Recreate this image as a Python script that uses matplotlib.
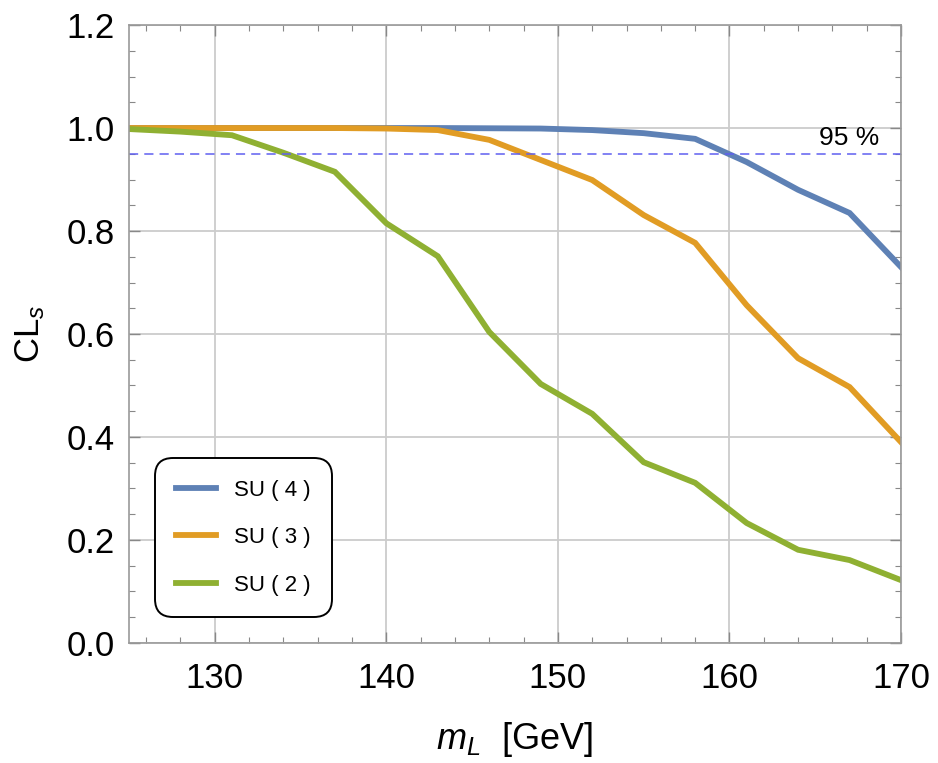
import numpy as np
import matplotlib.pyplot as plt
from matplotlib.ticker import MultipleLocator

plt.rcParams['font.family'] = ['Liberation Sans', 'DejaVu Sans']
plt.rcParams['mathtext.fontset'] = 'custom'
plt.rcParams['mathtext.rm'] = 'Liberation Sans'
plt.rcParams['mathtext.it'] = 'Liberation Sans:italic'

mass = [125, 128, 131, 134, 137, 140, 143, 146, 149, 152, 155, 158, 161, 164, 167, 170]
cls_su4 = [1.0, 1.0, 1.0, 1.0, 1.0, 1.0, 1.0, 0.9995, 0.999, 0.996, 0.99, 0.979, 0.934, 0.88, 0.835, 0.730]
cls_su3 = [1.0, 1.0, 1.0, 1.0, 1.0, 0.999, 0.996, 0.977, 0.938, 0.899, 0.831, 0.777, 0.656, 0.553, 0.497, 0.390]
cls_su2 = [0.998, 0.993, 0.986, 0.952, 0.915, 0.815, 0.751, 0.604, 0.503, 0.445, 0.351, 0.311, 0.233, 0.181, 0.161, 0.122]
labels = ['SU ( 4 )', 'SU ( 3 )', 'SU ( 2 )']
colors = ['#5E81B5', '#E19C24', '#8FB032']
cl_level = 0.95

fig = plt.figure(figsize=(9.38, 7.63), dpi=100)
ax = fig.add_axes([0.1375, 0.1573, 0.8231, 0.8099])

for y, lab, c in zip([cls_su4, cls_su3, cls_su2], labels, colors):
    ax.plot(mass, y, color=c, lw=4.2, label=lab, solid_joinstyle='miter')

ax.axhline(cl_level, color='#5f5ff0', lw=1.1, dashes=(6, 4))
ax.text(165.2, 0.957, '95 %', fontsize=19, ha='left', va='bottom')

ax.set_xlim(125, 170)
ax.set_ylim(0, 1.2)
ax.xaxis.set_major_locator(MultipleLocator(10))
ax.xaxis.set_minor_locator(MultipleLocator(2))
ax.yaxis.set_major_locator(MultipleLocator(0.2))
ax.yaxis.set_minor_locator(MultipleLocator(0.05))
ax.yaxis.set_major_formatter(plt.FormatStrFormatter('%.1f'))
ax.grid(True, which='major', color='#cccccc', lw=1.3)
ax.set_axisbelow(True)

for s in ax.spines.values():
    s.set_color('#999999')
    s.set_linewidth(1.2)
ax.tick_params(which='both', direction='in', top=True, right=True, color='#888888',
               labelsize=25)
ax.tick_params(axis='x', pad=14)
ax.tick_params(axis='y', pad=10)
ax.tick_params(which='major', length=8, width=1.0)
ax.tick_params(which='minor', length=4, width=0.8)

ax.set_xlabel(r'$m_L$  [GeV]', fontsize=26, labelpad=18)
ax.set_ylabel(r'CL$_s$', fontsize=25, labelpad=14)

leg = ax.legend(loc='lower left', bbox_to_anchor=(0.034, 0.042), fontsize=16,
                handlelength=1.8, handletextpad=0.8, labelspacing=1.2,
                borderpad=0.95, borderaxespad=0, fancybox=True, framealpha=1,
                edgecolor='black')
leg.get_frame().set_linewidth(1.4)
leg.get_frame().set_boxstyle('round', pad=0, rounding_size=0.8)
for h in leg.get_lines():
    h.set_linewidth(4.2)

fig.savefig('out.png', dpi=100)
